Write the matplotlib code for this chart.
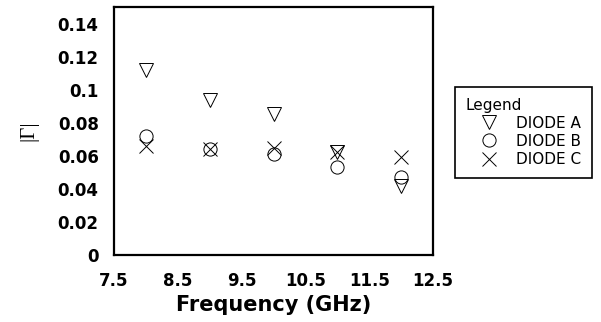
import matplotlib
matplotlib.use("Agg")
import matplotlib.pyplot as plt

freq = [8, 9, 10, 11, 12]
diode_a = [0.112, 0.094, 0.085, 0.0625, 0.042]
diode_b = [0.072, 0.064, 0.061, 0.053, 0.047]
diode_c = [0.066, 0.064, 0.065, 0.062, 0.059]

xticks = [7.5, 8.5, 9.5, 10.5, 11.5, 12.5]
yticks = [0, 0.02, 0.04, 0.06, 0.08, 0.1, 0.12, 0.14]
ytick_labels = ['0', '0.02', '0.04', '0.06', '0.08', '0.1', '0.12', '0.14']

plt.rcParams['font.family'] = 'DejaVu Sans'

fig = plt.figure(figsize=(6.01, 3.22), dpi=100)
ax = fig.add_axes([114/601, 1-255/322, (433-114)/601, (255-7)/322])

ms = 9.5
ax.plot(freq, diode_a, ls='none', marker='v', ms=ms, mfc='none', mec='black', mew=0.7, label='DIODE A')
ax.plot(freq, diode_b, ls='none', marker='o', ms=ms, mfc='none', mec='black', mew=0.7, label='DIODE B')
ax.plot(freq, diode_c, ls='none', marker='x', ms=ms, mfc='none', mec='black', mew=0.7, label='DIODE C')

ax.set_xlim(7.5, 12.5)
ax.set_ylim(0, 0.15)
ax.set_xticks(xticks)
ax.set_xticklabels([str(t) for t in xticks], fontweight='bold', fontsize=12)
ax.set_yticks(yticks)
ax.set_yticklabels(ytick_labels, fontweight='bold', fontsize=12)
ax.tick_params(length=0)
ax.tick_params(axis='x', pad=12)
ax.tick_params(axis='y', pad=11)
for s in ax.spines.values():
    s.set_linewidth(1.6)

ax.set_xlabel('Frequency (GHz)', fontweight='bold', fontsize=15, labelpad=4)
fig.text(29/601, 1-131/322, '|Γ|', family='Liberation Serif', fontsize=15,
         rotation=90, ha='center', va='center')

# legend box sits to the right of the axes
leg = fig.legend(loc='upper left', bbox_to_anchor=(455/601, 1-87/322), borderaxespad=0,
                 title='Legend', fontsize=11, title_fontsize=11, fancybox=False,
                 edgecolor='black', framealpha=1, handlelength=3.0, handletextpad=0.3,
                 borderpad=0.7, labelspacing=0.2)
leg._legend_box.align = 'left'
leg.get_frame().set_linewidth(1.2)

fig.savefig('out.png', dpi=100)
